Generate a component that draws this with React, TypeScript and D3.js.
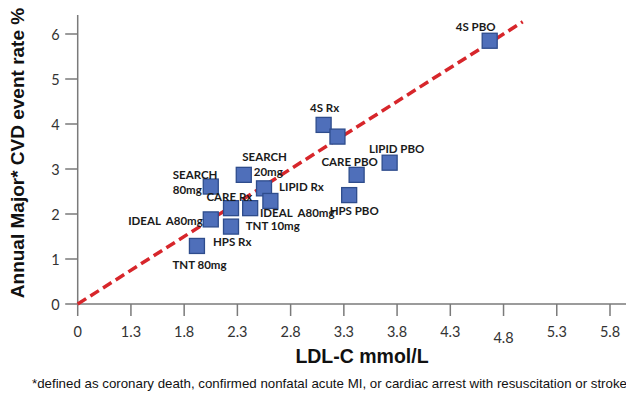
import React, { useRef, useEffect } from 'react'
import * as d3 from 'd3'

// LDL-C (mmol/L) vs annual major CVD event rate (%)
const trials = ['4S PBO', '4S Rx', 'WOSCOPS', 'LIPID PBO', 'CARE PBO', 'HPS PBO', 'SEARCH 20mg', 'LIPID Rx', 'IDEAL S', 'SEARCH 80mg', 'CARE Rx', 'TNT 10mg', 'IDEAL A80mg', 'HPS Rx', 'TNT 80mg']
const ldl = [4.67, 3.11, 3.24, 3.73, 3.42, 3.35, 2.36, 2.55, 2.61, 2.05, 2.24, 2.42, 2.05, 2.24, 1.92]
const eventRate = [5.85, 3.98, 3.72, 3.14, 2.87, 2.42, 2.87, 2.57, 2.29, 2.61, 2.13, 2.13, 1.88, 1.72, 1.29]

const xTickValues = [0.8, 1.3, 1.8, 2.3, 2.8, 3.3, 3.8, 4.3, 4.8, 5.3, 5.8]
const xTickLabels = ['0', '1.3', '1.8', '2.3', '2.8', '3.3', '3.8', '4.3', '4.8', '5.3', '5.8']
const yTickValues = [0, 1, 2, 3, 4, 5, 6]

// regression line ends (x, y)
const trendX = [0.8, 4.98]
const trendY = [0, 6.27]

// label placement per point: [text, dx, dy, anchor]
const labelLayout: [string, number, number, string][][] = [
  [['4S PBO', -14, -14.5, 'middle']],
  [['4S Rx', 1, -17, 'middle']],
  [],
  [['LIPID PBO', 7, -14, 'middle']],
  [['CARE PBO', -7, -13, 'middle']],
  [['HPS PBO', 5, 15, 'middle']],
  [['SEARCH', -1.5, -18.5, 'start'], ['20mg', 10, -3, 'start']],
  [['LIPID Rx', 15, -2, 'start']],
  [['IDEAL  A80mg', -10.5, 11.5, 'start']],
  [['SEARCH', -38, -12.5, 'start'], ['80mg', -38, 2.6, 'start']],
  [['CARE Rx', -24.5, -11.5, 'start']],
  [['TNT 10mg', -4.5, 17.7, 'start']],
  [['IDEAL  A80mg', -8, 0.7, 'end']],
  [['HPS Rx', -18, 15, 'start']],
  [['TNT 80mg', -24.5, 19, 'start']],
]

export default function App() {
  const svgRef = useRef<SVGSVGElement>(null)

  useEffect(() => {
    const width = 626
    const height = 395
    const svg = d3.select(svgRef.current)
    svg.selectAll('*').remove()
    svg.attr('width', width).attr('height', height)

    const x = d3.scaleLinear().domain([0.8, 5.8]).range([77.7, 610])
    const y = d3.scaleLinear().domain([0, 6]).range([304, 34])

    const axisColor = '#7a7a7a'
    const tickFont = 'Lato, "Open Sans", sans-serif'

    // y axis
    const gy = svg.append('g')
    gy.append('line')
      .attr('x1', x(0.8)).attr('x2', x(0.8))
      .attr('y1', y(6.42)).attr('y2', y(0))
      .attr('stroke', axisColor).attr('stroke-width', 1.5)
    gy.selectAll('line.tick').data(yTickValues).join('line')
      .attr('class', 'tick')
      .attr('x1', x(0.8) - 12.5).attr('x2', x(0.8))
      .attr('y1', d => y(d)).attr('y2', d => y(d))
      .attr('stroke', axisColor).attr('stroke-width', 1.5)
    gy.selectAll('text').data(yTickValues).join('text')
      .attr('x', x(0.8) - 18).attr('y', d => y(d))
      .attr('text-anchor', 'end').attr('dominant-baseline', 'central')
      .attr('font-family', tickFont).attr('font-size', 14.5).attr('fill', '#333')
      .text(d => d)

    // x axis
    const gx = svg.append('g')
    gx.append('line')
      .attr('x1', x(0.8)).attr('x2', width)
      .attr('y1', y(0)).attr('y2', y(0))
      .attr('stroke', axisColor).attr('stroke-width', 1.5)
    gx.selectAll('line.tick').data(xTickValues).join('line')
      .attr('class', 'tick')
      .attr('x1', d => x(d)).attr('x2', d => x(d))
      .attr('y1', y(0)).attr('y2', y(0) + 12)
      .attr('stroke', axisColor).attr('stroke-width', 1.5)
    gx.selectAll('text').data(xTickValues).join('text')
      .attr('x', d => x(d))
      .attr('y', (d, i) => (xTickLabels[i] === '4.8' ? 337 : 331))
      .attr('text-anchor', 'middle').attr('dominant-baseline', 'central')
      .attr('font-family', tickFont).attr('font-size', 14.5).attr('fill', '#333')
      .text((d, i) => xTickLabels[i])

    // trend line
    const line = d3.line<number>()
      .x(d => x(trendX[d]))
      .y(d => y(trendY[d]))
    svg.append('path')
      .datum([0, 1])
      .attr('d', line)
      .attr('fill', 'none')
      .attr('stroke', '#d7262b')
      .attr('stroke-width', 3.5)
      .attr('stroke-dasharray', '10,5')

    // points
    const s = 15
    svg.append('g').selectAll('rect').data(trials).join('rect')
      .attr('x', (d, i) => x(ldl[i]) - s / 2)
      .attr('y', (d, i) => y(eventRate[i]) - s / 2)
      .attr('width', s).attr('height', s)
      .attr('fill', '#4f6fba')
      .attr('stroke', '#2e4c8c')
      .attr('stroke-width', 1.3)

    // point labels
    const gl = svg.append('g')
      .attr('font-family', tickFont).attr('font-weight', 'bold')
      .attr('font-size', 11.5).attr('fill', '#1a1a1a')
    trials.forEach((t, i) => {
      labelLayout[i].forEach(([txt, dx, dy, anchor]) => {
        gl.append('text')
          .attr('x', x(ldl[i]) + dx)
          .attr('y', y(eventRate[i]) + dy)
          .attr('text-anchor', anchor)
          .attr('dominant-baseline', 'central')
          .style('white-space', 'pre')
          .text(txt)
      })
    })

    // titles
    const titleFont = '"Liberation Sans", Arial, sans-serif'
    svg.append('text')
      .attr('transform', 'translate(17,153) rotate(-90)')
      .attr('text-anchor', 'middle').attr('dominant-baseline', 'central')
      .attr('font-family', titleFont).attr('font-weight', 'bold')
      .attr('font-size', 19).attr('fill', '#111')
      .text('Annual Major* CVD event rate %')
    svg.append('text')
      .attr('x', 362).attr('y', 356)
      .attr('text-anchor', 'middle').attr('dominant-baseline', 'central')
      .attr('font-family', titleFont).attr('font-weight', 'bold')
      .attr('font-size', 19.5).attr('fill', '#111')
      .text('LDL-C mmol/L')
    svg.append('text')
      .attr('x', 32).attr('y', 383)
      .attr('dominant-baseline', 'central')
      .attr('font-family', titleFont)
      .attr('font-size', 13.3).attr('fill', '#111')
      .text('*defined as coronary death, confirmed nonfatal acute MI, or cardiac arrest with resuscitation or stroke')
  }, [])

  return (
    <div style={{ position: 'fixed', left: 0, top: 0, width: 626, height: 395, background: '#fff' }}>
      <svg ref={svgRef} style={{ display: 'block' }} />
    </div>
  )
}
